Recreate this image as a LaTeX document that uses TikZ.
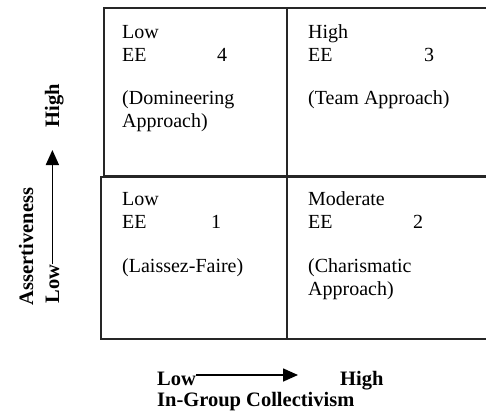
\documentclass[tikz,border=0pt]{standalone}
\usepackage{fontspec}
\setmainfont{Liberation Serif}
\usetikzlibrary{arrows.meta, positioning}

\begin{document}
\begin{tikzpicture}[x=1pt,y=-1pt,
    quad/.style={rectangle, draw=black!85, line width=1.8pt, anchor=north west, inner sep=0pt},
    celltext/.style={anchor=base west, align=left, inner sep=0pt, font=\fontsize{20}{23}\selectfont},
    axislabel/.style={inner sep=0pt, font=\bfseries\fontsize{20.5}{21}\selectfont},
    axisarrow/.style={-{Triangle[length=15pt,width=13pt]}, line width=1.6pt}]
    \useasboundingbox (0,0) rectangle (486,412);
    \clip (0,0) rectangle (486,412);

    % the four quadrants
    \node[quad, minimum width=183pt, minimum height=168pt] (q4) at (103,7) {};
    \node[quad, minimum width=230pt, minimum height=168pt] (q3) at (286,7) {};
    \node[quad, minimum width=186pt, minimum height=162pt] (q1) at (100,176) {};
    \node[quad, minimum width=230pt, minimum height=162pt] (q2) at (286,176) {};

    % base of a two-line node is the baseline of its last line
    \node[celltext] (r4) at (122,61) {Low\\EE};
    \node[celltext] (n4) at (217,61) {4};
    \node[celltext] (a4) at (122,127) {(Domineering\\Approach)};

    \node[celltext] (r3) at (308,61) {High\\EE};
    \node[celltext] (n3) at (424,61) {3};
    \node[celltext] (a3) at (308,104) {(Team Approach)};

    \node[celltext] (r1) at (122,228) {Low\\EE};
    \node[celltext] (n1) at (211,228) {1};
    \node[celltext] (a1) at (122,272) {(Laissez-Faire)};

    \node[celltext] (r2) at (308,228) {Moderate\\EE};
    \node[celltext] (n2) at (413,228) {2};
    \node[celltext] (a2) at (308,295) {(Charismatic\\Approach)};

    % axes
    \node[axislabel, anchor=base west] (xlow) at (157,385) {Low};
    \node[axislabel, anchor=base west] (xhigh) at (340,385) {High};
    \node[axislabel, anchor=base west] (xname) at (157,406) {In-Group Collectivism};
    \coordinate (xtip) at (298,375);
    \draw[axisarrow] (xlow.east |- xtip) -- (xtip);

    \node[axislabel, rotate=90, anchor=base] (ylow) at (59,284) {Low};
    \node[axislabel, rotate=90, anchor=base] (yhigh) at (59,106) {High};
    \node[axislabel, rotate=90, anchor=base] (yname) at (33,246.5) {Assertiveness};
    \coordinate (ytip) at (52,150);
    \draw[axisarrow] (ylow.east) -- (ylow.east |- ytip);

\end{tikzpicture}
\end{document}
